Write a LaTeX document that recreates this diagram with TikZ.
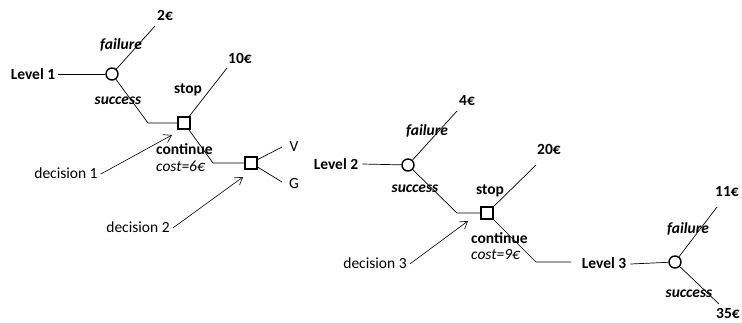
\documentclass[tikz,border=0pt]{standalone}
\usepackage{fontspec}
\setmainfont{Carlito}
\usetikzlibrary{arrows.meta}
\begin{document}
\begin{tikzpicture}[x=1pt,y=-1pt,
  every node/.style={font=\fontsize{15.5}{18}\selectfont, inner sep=1pt},
  chance/.style={draw, circle, line width=1.4pt, minimum size=12pt, inner sep=0pt},
  choice/.style={draw, rectangle, line width=1.4pt, minimum size=12pt, inner sep=0pt},
  br/.style={line width=0.7pt},
  lbl/.style={font=\fontsize{15.5}{18}\selectfont\bfseries},
  elbl/.style={font=\fontsize{15.5}{18}\selectfont\bfseries\itshape},
  plain/.style={font=\fontsize{15.5}{18}\selectfont},
  note/.style={font=\fontsize{15.5}{18}\selectfont\itshape},
  ptr/.style={line width=0.6pt, -{Straight Barb[length=7pt,width=9pt]}}
]
\useasboundingbox (0,0) rectangle (742,322);

% ---------- tree 1 ----------
\node[lbl] (L1) at (33,74) {Level 1};
\node[chance] (c1) at (112,74) {};
\coordinate (f1) at (155,26);
\coordinate (s1k) at (148,123);
\node[choice] (b1) at (184,123) {};
\coordinate (st1) at (227,68);
\coordinate (k1) at (213,163);
\node[choice] (b2) at (251,163) {};
\coordinate (v) at (282,147);
\coordinate (g) at (282,182);

\coordinate (L1e) at ([xshift=2pt]L1.east);
\draw[br] (L1e) -- (c1);
\draw[br] (c1) -- (f1);
\draw[br] (c1) -- (s1k) -- (b1);
\draw[br] (b1) -- (st1);
\draw[br] (b1) -- (k1) -- (b2);
\draw[br] (b2) -- (v);
\draw[br] (b2) -- (g);

\node[lbl] (e2) at (165,15) {2€};
\node[elbl] (fa1) at (121,45) {failure};
\node[elbl] (su1) at (118,101) {success};
\node[lbl] (e10) at (240,58) {10€};
\node[lbl] (stop1) at (188,90) {stop};
\node[lbl, anchor=west] (cont1) at (155,149) {continue};
\node[note, anchor=west] (cost1) at (155,166) {cost=6€};
\node[plain] (V) at (294,147) {V};
\node[plain] (G) at (294,184) {G};

\node[plain] (d1) at (66,173) {decision 1};
\node[plain] (d2) at (138,227) {decision 2};
\coordinate (d1t) at (172,135);
\coordinate (d2t) at (243,177);
\draw[ptr] ([xshift=2pt,yshift=-1pt]d1.east) -- (d1t);
\draw[ptr] ([xshift=2pt,yshift=-1pt]d2.east) -- (d2t);

% ---------- tree 2 ----------
\node[lbl] (L2) at (336,164) {Level 2};
\node[chance] (c2) at (408,165) {};
\coordinate (f2) at (457,111);
\coordinate (s2k) at (457,213);
\node[choice] (b3) at (487,213) {};
\coordinate (st2) at (536,165);
\coordinate (k3) at (536,262);
\coordinate (k3e) at (571,262);

\coordinate (L2e) at ([xshift=3pt]L2.east);
\draw[br] (L2e) -- (c2);
\draw[br] (c2) -- (f2);
\draw[br] (c2) -- (s2k) -- (b3);
\draw[br] (b3) -- (st2);
\draw[br] (b3) -- (k3) -- (k3e);

\node[lbl] (e4) at (467,101) {4€};
\node[elbl] (fa2) at (427,131) {failure};
\node[elbl] (su2) at (415,189) {success};
\node[lbl] (e20) at (549,149) {20€};
\node[lbl] (stop2) at (490,191) {stop};
\node[lbl, anchor=west] (cont2) at (470,238) {continue};
\node[note, anchor=west] (cost2) at (470,255) {cost=9€};

\node[plain] (d3) at (375,263) {decision 3};
\coordinate (d3t) at (468,221);
\draw[ptr] ([xshift=2pt,yshift=-1pt]d3.east) -- (d3t);

% ---------- level 3 ----------
\node[lbl] (L3) at (604,263) {Level 3};
\node[chance] (c3) at (675,262) {};
\coordinate (f3) at (717,207);
\coordinate (s3) at (719,304);
\coordinate (L3e) at ([xshift=3pt,yshift=-1pt]L3.east);
\draw[br] (L3e) -- (c3);
\draw[br] (c3) -- (f3);
\draw[br] (c3) -- (s3);

\node[lbl] (e11) at (727,192) {11€};
\node[elbl] (fa3) at (688,229) {failure};
\node[elbl] (su3) at (689,294) {success};
\node[lbl] (e35) at (728,313) {35€};
\end{tikzpicture}
\end{document}
